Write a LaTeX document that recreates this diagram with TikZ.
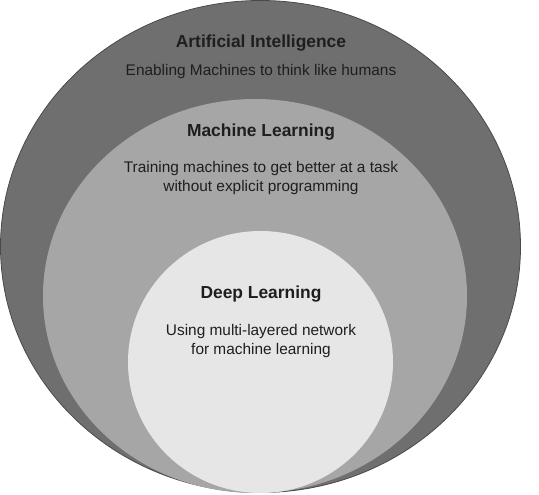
\documentclass[tikz,border=0pt]{standalone}
\usepackage{fontspec}
\setmainfont{Liberation Sans}
\usetikzlibrary{positioning, shapes.geometric}
\definecolor{aigray}{HTML}{6F6F70}
\definecolor{mlgray}{HTML}{A6A6A7}
\definecolor{dlgray}{HTML}{E6E6E7}
\definecolor{rimgray}{HTML}{4A4A4A}
\definecolor{inkgray}{HTML}{1E1E1E}
\tikzset{main node/.style={ellipse, inner sep=0pt, outer sep=0pt},
  title text/.style={font=\bfseries\fontsize{17.4}{20}\selectfont, text=inkgray},
  body text/.style={font=\fontsize{15.4}{19}\selectfont, align=center, text=inkgray}}

\begin{document}
\begin{tikzpicture}[x=1pt, y=-1pt]
				\useasboundingbox (0,0) rectangle (539,495);
				% Circles
				\node[main node, fill=aigray, draw=rimgray, line width=0.8pt, minimum width=520pt, minimum height=492pt] (ai) at (260.5,246.5) {};
				\node[main node, fill=mlgray, minimum width=424pt, minimum height=394pt] (ml) at (255,296) {};
				\node[main node, fill=dlgray, minimum width=265pt, minimum height=262pt] (dl) at (260.5,362) {};
				% Labels
				\node[title text] (aititle) at (261,43) {Artificial Intelligence};
				\node[body text] (aitext) at (261,72) {Enabling Machines to think like humans};
				\node[title text] (mltitle) at (261,132) {Machine Learning};
				\node[body text] (mltext) at (261,178.5) {Training machines to get better at a task\\without explicit programming};
				\node[title text] (dltitle) at (261,294) {Deep Learning};
				\node[body text] (dltext) at (261,341.5) {Using multi-layered network\\for machine learning};
			\end{tikzpicture}
\end{document}
